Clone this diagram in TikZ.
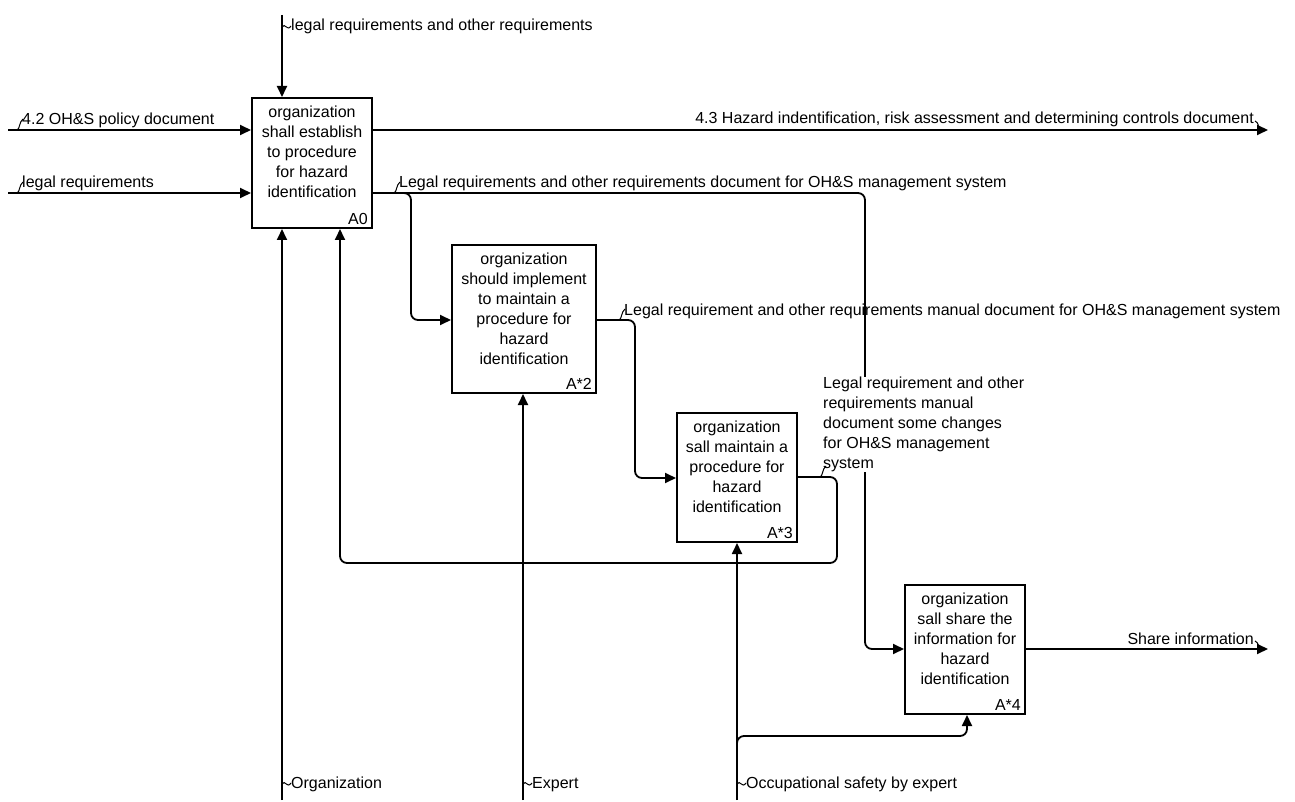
\documentclass[tikz,border=0pt]{standalone}
\usepackage{fontspec}
\setmainfont{Liberation Sans}
\usetikzlibrary{arrows.meta}
\begin{document}
\begin{tikzpicture}[x=1pt,y=-1pt,
  box/.style={draw, line width=2pt, inner sep=0pt},
  txt/.style={font=\fontsize{16}{20}\selectfont, inner sep=0pt},
  btxt/.style={txt, align=center, anchor=north},
  conn/.style={line width=1.8pt, -{Triangle[length=11pt,width=10pt]}, rounded corners=7pt},
  sq/.style={line width=1pt}]
\useasboundingbox (0,0) rectangle (1295,802);
% boxes
\node[box, minimum width=120pt, minimum height=130pt] (A0) at (312,163) {};
\node[box, minimum width=144pt, minimum height=148pt] (A2) at (524,319) {};
\node[box, minimum width=120pt, minimum height=129pt] (A3) at (737,477.5) {};
\node[box, minimum width=120pt, minimum height=129pt] (A4) at (965,649.5) {};
\node[btxt] (A0t) at (312,106) {organization\\shall establish\\to procedure\\for hazard\\identification};
\node[btxt] (A2t) at (524,253) {organization\\should implement\\to maintain a\\procedure for\\hazard\\identification};
\node[btxt] (A3t) at (737,421) {organization\\sall maintain a\\procedure for\\hazard\\identification};
\node[btxt] (A4t) at (965,593) {organization\\sall share the\\information for\\hazard\\identification};
\node[txt, anchor=south east] (A0n) at ([xshift=-5pt,yshift=4pt]A0.south east) {A0};
\node[txt, anchor=south east] (A2n) at ([xshift=-5pt,yshift=4pt]A2.south east) {A*2};
\node[txt, anchor=south east] (A3n) at ([xshift=-5pt,yshift=4pt]A3.south east) {A*3};
\node[txt, anchor=south east] (A4n) at ([xshift=-5pt,yshift=4pt]A4.south east) {A*4};
% coordinates
\coordinate (ctrlTop) at (282,15);
\coordinate (in1) at (8,130);
\coordinate (in2) at (8,193);
\coordinate (out1) at (1268,130);
\coordinate (o2a) at (865,193);
\coordinate (o2b) at (865,649);
\coordinate (br0) at (400,193);
\coordinate (br1) at (411,193);
\coordinate (br2) at (411,320);
\coordinate (a2o) at (635,320);
\coordinate (a2p) at (635,478);
\coordinate (a3o) at (837,477);
\coordinate (a3p) at (837,563);
\coordinate (fb) at (340,563);
\coordinate (org) at (282,800);
\coordinate (exp) at (523,800);
\coordinate (occ) at (737,800);
\coordinate (ob0) at (737,750);
\coordinate (ob1) at (737,736);
\coordinate (ob2) at (967,736);
\coordinate (out4) at (1268,649);
% connectors
\draw[conn] (ctrlTop) -- (ctrlTop |- A0.north);
\draw[conn] (in1) -- (in1 -| A0.west);
\draw[conn] (in2) -- (in2 -| A0.west);
\draw[conn] (out1 -| A0.east) -- (out1);
\draw[conn] (o2a -| A0.east) -- (o2a) -- (o2b) -- (o2b -| A4.west);
\draw[conn] (br0) -- (br1) -- (br2) -- (br2 -| A2.west);
\draw[conn] (a2o -| A2.east) -- (a2o) -- (a2p) -- (a2p -| A3.west);
\draw[conn] (a3o -| A3.east) -- (a3o) -- (a3p) -- (fb) -- (fb |- A0.south);
\draw[conn] (org) -- (org |- A0.south);
\draw[conn] (exp) -- (exp |- A2.south);
\draw[conn] (occ) -- (occ |- A3.south);
\draw[conn] (ob0) -- (ob1) -- (ob2) -- (ob2 |- A4.south);
\draw[conn] (out4 -| A4.east) -- (out4);
% labels
\node[txt, anchor=base west] (lctrl) at (291,31) {legal requirements and other requirements};
\node[txt, anchor=base west] (lin1) at (22,125) {4.2 OH\&S policy document};
\node[txt, anchor=base west] (lin2) at (22,188) {legal requirements};
\node[txt, anchor=base east] (lout1) at (1254,124) {4.3 Hazard indentification, risk assessment and determining controls document};
\node[txt, anchor=base west] (lout2) at (399,188) {Legal requirements and other requirements document for OH\&S management system};
\node[txt, anchor=base west] (la2) at (624,315) {Legal requirement and other requirements manual document for OH\&S management system};
\node[txt, anchor=north west, align=left, fill=white] (la3) at (823,377) {Legal requirement and other\\requirements manual\\document some changes\\for OH\&S management\\system};
\node[txt, anchor=base east] (lout4) at (1254,644) {Share information};
\node[txt, anchor=base west] (lorg) at (291,788) {Organization};
\node[txt, anchor=base west] (lexp) at (532,788) {Expert};
\node[txt, anchor=base west] (locc) at (746,788) {Occupational safety by expert};
% squiggles
\draw[sq] (282,27) .. controls (285,22) and (287,32) .. (291,26);
\draw[sq] (282,784) .. controls (285,779) and (287,789) .. (291,783);
\draw[sq] (523,784) .. controls (526,779) and (528,789) .. (532,783);
\draw[sq] (737,784) .. controls (740,779) and (742,789) .. (746,783);
\draw[sq] (17,130) .. controls (20,129) and (19,122) .. (23,119);
\draw[sq] (17,193) .. controls (20,192) and (19,185) .. (23,182);
\draw[sq] (394,193) .. controls (397,192) and (396,185) .. (400,182);
\draw[sq] (619,320) .. controls (622,319) and (621,312) .. (625,309);
\draw[sq] (820,477) .. controls (823,476) and (822,469) .. (826,466);
\draw[sq] (1255,121) .. controls (1259,123) and (1259,127) .. (1257,130);
\draw[sq] (1255,641) .. controls (1259,643) and (1259,647) .. (1257,649);
\end{tikzpicture}
\end{document}
